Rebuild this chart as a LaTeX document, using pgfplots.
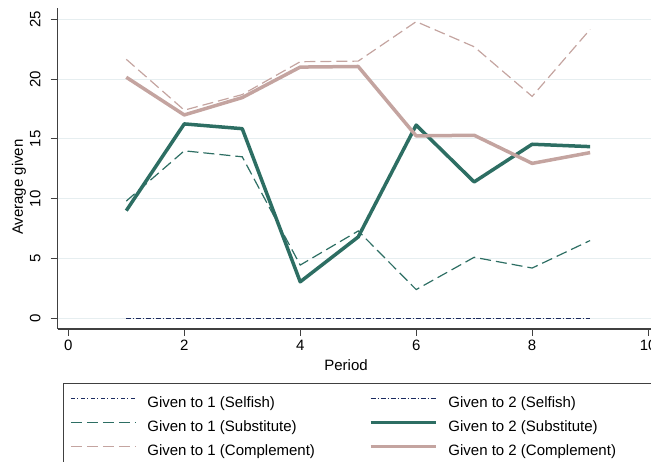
\documentclass[border=0pt]{standalone}
\usepackage{fontspec}
\setmainfont{Liberation Sans}
\usepackage{pgfplots}
\pgfplotsset{compat=1.18}
\definecolor{sgreen}{HTML}{2D6E63}
\definecolor{spink}{HTML}{C4A4A0}
\definecolor{snavy}{HTML}{1A2A5E}
\definecolor{sgrid}{HTML}{E6EEF0}
\definecolor{saxis}{HTML}{404040}
\begin{document}
\fontsize{15}{18}\selectfont
\begin{tikzpicture}
\begin{axis}[
 at={(57.7pt,133pt)}, anchor=south west,
 scale only axis, width=593.3pt, height=321pt,
 xmin=-0.1828, xmax=10.05, ymin=-0.895, ymax=25.94,
 axis x line*=bottom, axis y line*=left,
 axis line style={saxis, line width=1.2pt, -},
 xtick={0,2,...,10}, ytick={0,5,...,25},
 tick align=outside, major tick length=7pt,
 tick style={saxis, line width=1pt},
 ymajorgrids, grid style={sgrid, line width=1pt},
 /pgf/number format/assume math mode=true,
 tick label style={font=\fontsize{15}{18}\selectfont, inner sep=0pt},
 yticklabel style={rotate=90, anchor=south},
 xticklabel shift=3.5pt, yticklabel shift=10pt,
 xlabel={Period}, ylabel={Average given},
 label style={font=\fontsize{15}{18}\selectfont},
 xlabel style={at={(axis description cs:0.486,-0.112)}, anchor=center},
 ylabel style={at={(axis description cs:-0.0652,0.442)}, anchor=center},
 legend columns=2, legend cell align=left,
 legend image code/.code={\draw[#1] (0pt,5pt) -- (65pt,5pt);},
 legend style={draw=none, fill=none, at={(axis description cs:0.02073,-0.2087)}, anchor=north west,
   inner sep=0pt, row sep=10.2pt, font=\fontsize{15}{18}\selectfont,
   nodes={inner sep=0pt, text height=11pt, text depth=3pt},
   /tikz/every odd column/.append style={column sep=11pt},
   /tikz/every even column/.append style={column sep=54pt}},
]
\addplot[snavy, line width=1.2pt, dash pattern=on 4pt off 2.5pt on 1pt off 2.5pt] coordinates {(1,0)(2,0)(3,0)(4,0)(5,0)(6,0)(7,0)(8,0)(9,0)};
\addlegendentry{Given to 1 (Selfish)}
\addplot[snavy, line width=1.2pt, dash pattern=on 5pt off 2pt on 1pt off 2pt] coordinates {(1,0)(2,0)(3,0)(4,0)(5,0)(6,0)(7,0)(8,0)(9,0)};
\addlegendentry{Given to 2 (Selfish)}
\addplot[sgreen, line width=1.2pt, dash pattern=on 11pt off 5pt] coordinates {(1,9.8)(2,14.0)(3,13.5)(4,4.45)(5,7.3)(6,2.4)(7,5.1)(8,4.2)(9,6.5)};
\addlegendentry{Given to 1 (Substitute)}
\addplot[sgreen, line width=3.5pt, line join=round] coordinates {(1,9.0)(2,16.25)(3,15.85)(4,3.05)(5,6.8)(6,16.15)(7,11.4)(8,14.55)(9,14.35)};
\addlegendentry{Given to 2 (Substitute)}
\addplot[spink, line width=1.2pt, dash pattern=on 11pt off 5pt] coordinates {(1,21.65)(2,17.4)(3,18.7)(4,21.45)(5,21.5)(6,24.8)(7,22.7)(8,18.55)(9,24.15)};
\addlegendentry{Given to 1 (Complement)}
\addplot[spink, line width=3.5pt, line join=round] coordinates {(1,20.15)(2,17.0)(3,18.45)(4,21.0)(5,21.05)(6,15.25)(7,15.3)(8,12.95)(9,13.85)};
\addlegendentry{Given to 2 (Complement)}
\end{axis}
\draw[saxis, line width=1pt] (63pt,78pt) rectangle (720pt,-20pt);
\pgfresetboundingbox
\useasboundingbox (0pt,0pt) rectangle (651pt,462pt);
\end{tikzpicture}
\end{document}
